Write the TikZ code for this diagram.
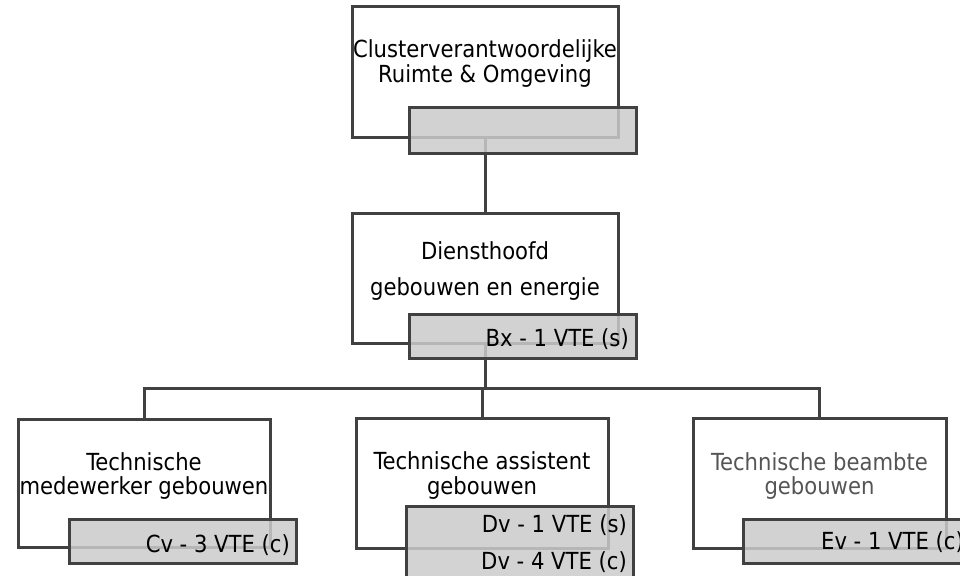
\documentclass[tikz,border=0pt]{standalone}
\usepackage{fontspec}
\setmainfont{DejaVu Sans Condensed}
\definecolor{linec}{HTML}{414141}
\definecolor{postfill}{HTML}{CBCBCB}
\definecolor{softtext}{HTML}{555555}
\begin{document}
\begin{tikzpicture}[x=1pt,y=-1pt,
  rolebox/.style={draw=linec, line width=3pt, fill=white, inner sep=0pt,
    minimum width=#1, minimum height=130pt},
  postbox/.style={draw=linec, line width=3pt, fill=postfill, fill opacity=0.85,
    text opacity=1, inner sep=0pt, minimum width=227pt, minimum height=#1},
  wire/.style={draw=linec, line width=3pt},
  lbl/.style={anchor=base, inner sep=0pt, font=\fontsize{23.5pt}{28pt}\selectfont},
  rlbl/.style={anchor=base east, inner sep=0pt, font=\fontsize{23.5pt}{28pt}\selectfont}]
\useasboundingbox (0,0) rectangle (960,575);
\clip (0,0) rectangle (960,575);

% role boxes
\node[rolebox=266pt] (head) at (485,72) {};
\node[rolebox=266pt] (chief) at (485,278) {};
\node[rolebox=252pt, minimum height=128pt] (worker) at (144,483) {};
\node[rolebox=252pt] (assist) at (482,483) {};
\node[rolebox=253pt] (clerk) at (819.5,483) {};

% role titles
\node[lbl] (headA) at (485,58) {Clusterverantwoordelijke};
\node[lbl] (headB) at (485,83) {Ruimte \& Omgeving};
\node[lbl] (chiefA) at (485,259) {Diensthoofd};
\node[lbl] (chiefB) at (485,295) {gebouwen en energie};
\node[lbl] (workerA) at (144,470) {Technische};
\node[lbl] (workerB) at (144,494) {medewerker gebouwen};
\node[lbl] (assistA) at (482,469) {Technische assistent};
\node[lbl] (assistB) at (482,494) {gebouwen};
\node[lbl, text=softtext] (clerkA) at (819.5,470) {Technische beambte};
\node[lbl, text=softtext] (clerkB) at (819.5,494) {gebouwen};

% reporting lines
\coordinate (bus) at (485,388);
\draw[wire] (head.south) -- (chief.north);
\draw[wire] (chief.south) -- (bus);
\draw[wire, line join=miter] (worker.north) |- (bus) -| (clerk.north);
\draw[wire] (assist.north) -- (assist.north |- bus);

% staffing boxes
\node[postbox=45pt] (headpost) at (522.5,130.5) {};
\node[postbox=44pt] (chiefpost) at (522.5,336) {};
\node[postbox=44pt] (workerpost) at (182.5,541) {};
\node[postbox=84pt] (assistpost) at (519.5,548) {};
\node[postbox=44pt] (clerkpost) at (856.5,541) {};

% staffing figures
\node[rlbl] (chiefnum) at (629,346) {Bx - 1 VTE (s)};
\node[rlbl] (workernum) at (290,552) {Cv - 3 VTE (c)};
\node[rlbl] (assistnumA) at (627,532) {Dv - 1 VTE (s)};
\node[rlbl] (assistnumB) at (627,569) {Dv - 4 VTE (c)};
\node[rlbl] (clerknum) at (964,549) {Ev - 1 VTE (c)};
\end{tikzpicture}
\end{document}
